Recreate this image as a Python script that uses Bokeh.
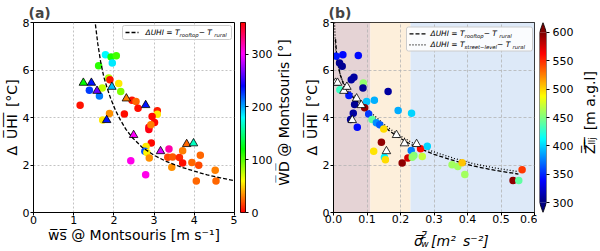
import colorsys
import math
import numpy as np
from bokeh.plotting import figure
from bokeh.models import (Range1d, LinearColorMapper, ColumnDataSource, Label, BoxAnnotation,
                          Arrow, FixedTicker, PrintfTickFormatter)
from bokeh.layouts import row, column
from bokeh.transform import linear_cmap
from bokeh.embed import file_html
from bokeh.resources import INLINE

# ---------------- data: panel (a) ----------------
a_circ_ws = [1.16, 1.39, 1.64, 1.62, 1.79, 1.93, 2.06, 1.96, 1.87, 1.90,
             1.71, 2.12, 2.17, 1.72, 1.89, 2.26, 2.45, 2.55, 2.60, 3.08,
             3.08, 2.95, 3.01, 2.87, 2.87, 2.92, 2.93, 2.80, 2.77, 2.82,
             2.88, 2.42, 2.79, 3.37, 3.34, 3.46, 3.44, 3.63, 3.71, 3.71,
             3.94, 4.11, 4.15, 4.05, 4.52, 4.54]
a_circ_uhi = [4.52, 5.15, 4.91, 6.18, 6.64, 6.55, 6.60, 6.29, 5.66, 5.59,
              5.24, 5.43, 5.09, 3.90, 4.17, 4.15, 4.73, 4.67, 4.39, 4.28,
              4.14, 4.04, 3.79, 3.59, 3.49, 3.69, 2.93, 2.78, 2.58, 2.53,
              2.29, 2.18, 1.59, 2.67, 2.33, 2.34, 1.91, 2.32, 2.08, 2.60,
              2.11, 1.99, 2.41, 1.33, 1.78, 1.33]
a_circ_wd = [5, 225, 210, 110, 180, 115, 105, 185, 80, 5,
             75, 55, 90, 55, 35, 3, 5, 25, 3, 8,
             55, 2, 2, 355, 355, 30, 2, 55, 220, 58,
             35, 305, 305, 320, 18, 22, 35, 10, 3, 30,
             25, 18, 25, 25, 30, 25]
a_tri_ws = [1.24, 1.44, 1.58, 1.95, 1.82, 2.31, 2.79, 2.49, 3.16, 3.81, 3.98]
a_tri_uhi = [5.46, 5.46, 5.12, 5.29, 3.89, 4.80, 4.52, 3.26, 2.58, 2.88, 2.91]
a_tri_wd = [120, 235, 265, 195, 235, 30, 235, 300, 290, 25, 165]
a_fit_ws = [1.54, 1.60, 1.67, 1.75, 1.83, 1.92, 2.04, 2.16, 2.30, 2.46, 2.70,
            2.99, 3.30, 3.66, 4.00, 4.32, 4.65, 5.00]
a_fit_uhi = [7.92, 7.10, 6.35, 5.70, 5.25, 4.80, 4.30, 3.90, 3.50, 3.15, 2.75,
             2.42, 2.15, 1.92, 1.74, 1.58, 1.46, 1.34]
a_xticks = [0, 1, 2, 3, 4, 5]
a_yticks = [0, 2, 4, 6, 8]
wd_ticks = [0, 100, 200, 300]

# ---------------- data: panel (b) ----------------
b_circ_sig = [0.008, 0.028, 0.074, 0.018, 0.026, 0.061, 0.053, 0.089, 0.088, 0.019,
              0.046, 0.163, 0.099, 0.122, 0.063, 0.093, 0.105, 0.059, 0.051, 0.071,
              0.115, 0.128, 0.138, 0.150, 0.193, 0.233, 0.143, 0.120, 0.152, 0.155,
              0.205, 0.222, 0.232, 0.240, 0.235, 0.260, 0.280, 0.265, 0.354, 0.371,
              0.384, 0.392, 0.563, 0.536, 0.553]
b_circ_uhi = [6.58, 6.64, 6.61, 6.29, 6.16, 5.70, 5.59, 5.45, 5.24, 5.17,
              4.93, 5.09, 4.67, 4.73, 4.55, 4.41, 4.15, 4.18, 3.92, 3.59,
              3.92, 3.78, 3.70, 3.52, 4.29, 4.18, 2.96, 2.58, 2.33, 2.22,
              2.08, 2.30, 2.61, 2.40, 2.33, 2.68, 2.79, 2.36, 2.01, 1.94,
              2.09, 1.60, 1.80, 1.35, 1.35]
b_circ_z = [345, 340, 340, 307, 307, 310, 310, 455, 307, 430,
            345, 310, 395, 390, 307, 595, 355, 310, 310, 340,
            440, 380, 365, 497, 388, 400, 595, 495, 410, 497,
            595, 575, 375, 450, 455, 560, 400, 470, 460, 460,
            505, 460, 545, 595, 440]
b_tri_sig = [0.006, 0.012, 0.031, 0.040, 0.069, 0.083, 0.056, 0.188, 0.158, 0.212, 0.248]
b_tri_uhi = [5.46, 5.46, 5.12, 5.29, 4.80, 4.52, 3.89, 3.26, 2.58, 2.91, 2.88]
b_roof_sig = [0.006, 0.010, 0.020, 0.030, 0.045, 0.065, 0.090, 0.120, 0.150, 0.190,
              0.240, 0.300, 0.360, 0.420, 0.480, 0.552]
b_roof_uhi = [7.30, 6.50, 5.80, 5.40, 5.05, 4.75, 4.40, 4.00, 3.62, 3.20,
              2.80, 2.45, 2.18, 1.95, 1.78, 1.62]
b_street_sig = [0.003, 0.006, 0.010, 0.020, 0.030, 0.045, 0.065, 0.090, 0.120, 0.150,
                0.190, 0.240, 0.300, 0.360, 0.420, 0.480, 0.552]
b_street_uhi = [8.00, 7.00, 6.40, 5.80, 5.45, 5.15, 4.85, 4.50, 4.10, 3.72,
                3.30, 2.90, 2.55, 2.28, 2.05, 1.88, 1.72]
b_region_edges = [0.0, 0.11, 0.23, 0.6]
b_region_colors = ["#e5d3d5", "#fdefdb", "#dde9f8"]
b_xticks = [0.0, 0.1, 0.2, 0.3, 0.4, 0.5, 0.6]
b_yticks = [0, 2, 4, 6, 8]
z_ticks = [300, 350, 400, 450, 500, 550, 600]

# ---------------- palettes ----------------
def hexc(r, g, b):
    return "#%02x%02x%02x" % (int(round(r * 255)), int(round(g * 255)), int(round(b * 255)))

HSV = [hexc(*colorsys.hsv_to_rgb(i / 255.0, 1.0, 1.0)) for i in range(256)]

def _cl(v):
    return max(0.0, min(1.0, v))

JET = []
for i in range(256):
    t = i / 255.0
    JET.append(hexc(_cl(min(4 * t - 1.5, -4 * t + 4.5)),
                    _cl(min(4 * t - 0.5, -4 * t + 3.5)),
                    _cl(min(4 * t + 0.5, -4 * t + 2.5))))

# ---------------- layout constants ----------------
FONT = "DejaVu Sans"
H = 251
FT, FB = 22, 39
FH = 190
MAIN_W = 237
FL, FR = 33, 3
FW = MAIN_W - FL - FR
PB_H = 227              # panel (b) figure height; its x-label lives in a strip below
STRIP_H = H - PB_H
TICK_FS = "11px"
LABEL_FS = "14px"
UHI_LABEL = "Δ\u2002U\u0305H\u0305I\u0305\u2002[°C]"

W = {' ': 0.318, 'Δ': 0.684, 'U': 0.732, 'H': 0.752, 'I': 0.295, '=': 0.838, 'T': 0.611,
     '−': 0.838, 'r': 0.411, 'o': 0.612, 'f': 0.352, 't': 0.392, 'p': 0.635, 'u': 0.634,
     'a': 0.613, 'l': 0.278, 's': 0.521, 'e': 0.615, 'v': 0.592, 'w': 0.818}


def tw(s, size):
    return sum(W.get(ch, 0.6) for ch in s) * size


def to_data(fx, fy, geo):
    fl, fw, xr, yr = geo
    x = xr[0] + (fx - fl) / fw * (xr[1] - xr[0])
    y = yr[1] - (fy - FT) / FH * (yr[1] - yr[0])
    return x, y


def add_text(p, geo, fx, fy, text, size, style="normal", align="left", baseline="middle"):
    x, y = to_data(fx, fy, geo)
    p.add_layout(Label(x=x, y=y, text=text, text_font=FONT,
                       text_font_size="%.2fpx" % size, text_font_style=style,
                       text_align=align, text_baseline=baseline, text_color="black"))


def add_math(p, geo, fx, fy, parts, size=7.5):
    x = fx
    for txt, sub in parts:
        s = size * 0.7 if sub else size
        add_text(p, geo, x, fy + (2.2 if sub else 0.0), txt, s, style="italic")
        x += tw(txt, s)


def add_legend_frame(p, geo, x0, y0, x1, y1):
    l, t = to_data(x0, y0, geo)
    r, b = to_data(x1, y1, geo)
    box = BoxAnnotation(left=l, right=r, top=t, bottom=b, fill_color="white",
                        fill_alpha=0.85, line_color="#cccccc", line_width=1, line_alpha=1.0)
    try:
        box.border_radius = 2
    except Exception:
        pass
    p.add_layout(box)


def add_sample(p, geo, x0, x1, y, dash):
    xs, ys = to_data(x0, y, geo)
    xe, _ = to_data(x1, y, geo)
    p.add_layout(Arrow(end=None, x_start=xs, y_start=ys, x_end=xe, y_end=ys,
                       line_color="black", line_width=1.3, line_dash=dash))


def style_axis(ax, standoff_label):
    ax.major_label_text_font = FONT
    ax.major_label_text_font_size = TICK_FS
    ax.major_label_text_color = "black"
    ax.major_tick_line_color = "black"
    ax.major_tick_out = 3
    ax.major_tick_in = 0
    ax.minor_tick_line_color = None
    ax.axis_label_text_font = FONT
    ax.axis_label_text_font_size = LABEL_FS
    ax.axis_label_text_font_style = "normal"
    ax.axis_label_text_color = "black"
    ax.axis_label_standoff = standoff_label


def main_fig(height, xr, yr, xticks, yticks, grid_dash, title):
    p = figure(width=MAIN_W, height=height, x_range=Range1d(*xr), y_range=Range1d(*yr),
               output_backend="svg", toolbar_location=None,
               min_border_left=FL, min_border_right=FR,
               min_border_top=FT, min_border_bottom=height - FT - FH)
    p.xaxis.ticker = FixedTicker(ticks=xticks)
    p.yaxis.ticker = FixedTicker(ticks=yticks)
    for ax in (p.xaxis[0], p.yaxis[0]):
        style_axis(ax, 0)
        ax.axis_line_color = "black"
        ax.major_label_standoff = 1
    p.xaxis[0].major_label_standoff = 0
    p.outline_line_color = "black"
    p.outline_line_alpha = 1.0
    p.grid.grid_line_color = "#b4b4b4"
    p.grid.grid_line_dash = grid_dash
    p.grid.grid_line_width = 0.8
    p.background_fill_color = "white"
    p.border_fill_color = "white"
    p.title.text = title
    p.title.text_font = FONT
    p.title.text_font_size = "14px"
    p.title.text_font_style = "bold"
    p.title.align = "left"
    p.title.offset = -5
    p.title.standoff = 3
    return p


def cbar_fig(width, yr, ticks, bl):
    p = figure(width=width, height=H, x_range=Range1d(0, 1), y_range=Range1d(*yr),
               output_backend="svg", toolbar_location=None,
               x_axis_location=None, y_axis_location="right",
               min_border_left=bl, min_border_right=width - bl - 7,
               min_border_top=FT, min_border_bottom=FB)
    p.xgrid.visible = False
    p.ygrid.visible = False
    ax = p.yaxis[0]
    ax.ticker = FixedTicker(ticks=ticks)
    style_axis(ax, 0)
    ax.axis_line_color = None
    ax.major_label_standoff = 3
    p.border_fill_color = "white"
    return p


def text_fig(width, height):
    # a blank figure whose frame hosts text placed in pixel coordinates (y up)
    p = figure(width=width, height=height, x_range=Range1d(0, width),
               y_range=Range1d(0, height), output_backend="svg", toolbar_location=None,
               x_axis_location=None, y_axis_location=None, min_border=0)
    p.grid.visible = False
    p.outline_line_color = None
    p.background_fill_color = "white"
    p.border_fill_color = "white"
    return p


def put(p, x, y, text, size, style="normal", align="left", baseline="alphabetic", angle=0.0):
    p.add_layout(Label(x=x, y=y, text=text, text_font=FONT, text_font_size="%.2fpx" % size,
                       text_font_style=style, text_align=align, text_baseline=baseline,
                       angle=angle, text_color="black"))

# ================= panel (a) =================
AX, AY = (0, 5), (0, 8)
geo_a = (FL, FW, AX, AY)
pa = main_fig(H, AX, AY, a_xticks, a_yticks, "2 2", "(a)")
pa.xaxis[0].axis_label = "w\u0305s\u0305 @ Montsouris [m s⁻¹]"
pa.yaxis[0].axis_label = UHI_LABEL

src_ac = ColumnDataSource(dict(x=a_circ_ws, y=a_circ_uhi, c=a_circ_wd))
pa.scatter("x", "y", source=src_ac, marker="circle", size=7.5, line_color=None,
           fill_color=linear_cmap("c", HSV, 0, 360))
src_at = ColumnDataSource(dict(x=a_tri_ws, y=a_tri_uhi, c=a_tri_wd))
pa.scatter("x", "y", source=src_at, marker="triangle", size=8.5, line_color="black",
           line_width=0.8, fill_color=linear_cmap("c", HSV, 0, 360))
pa.line(a_fit_ws, a_fit_uhi, line_color="black", line_width=1.3, line_dash="4 2")

add_legend_frame(pa, geo_a, 122, 25, 231, 39)
add_sample(pa, geo_a, 125, 138, 32, "4 2")
add_math(pa, geo_a, 145, 32, [("ΔUHI = T", False), ("rooftop", True),
                              (" − T", False), ("rural", True)])

# colorbar (a) + its label strip
CBA_Y = (0, 360)
CBA_W, CBA_LW = 38, 25
cba = cbar_fig(CBA_W, CBA_Y, wd_ticks, 3)
cba.image(image=[np.linspace(CBA_Y[0], CBA_Y[1], 256).reshape(-1, 1)], x=0, y=CBA_Y[0],
          dw=1, dh=CBA_Y[1] - CBA_Y[0],
          color_mapper=LinearColorMapper(palette=HSV, low=CBA_Y[0], high=CBA_Y[1]))
cba.outline_line_color = "black"
cba.outline_line_alpha = 1.0
cba_lab = text_fig(CBA_LW, H)
put(cba_lab, 8, H - 119, "W\u0305D\u0305 @ Montsouris [°]", 14, align="center",
    baseline="middle", angle=math.pi / 2)

# ================= panel (b) =================
BX, BY = (0, 0.6), (0, 8)
geo_b = (FL, FW, BX, BY)
pb = main_fig(PB_H, BX, BY, b_xticks, b_yticks, "3 2", "(b)")
pb.xaxis[0].formatter = PrintfTickFormatter(format="%.1f")
pb.xaxis[0].major_label_standoff = -1
pb.yaxis[0].axis_label = UHI_LABEL

pb.quad(left=b_region_edges[:-1], right=b_region_edges[1:], bottom=BY[0], top=BY[1],
        fill_color=b_region_colors, line_color=None, level="image")

pb.line(b_roof_sig, b_roof_uhi, line_color="black", line_width=1.3, line_dash="4 2")
pb.line(b_street_sig, b_street_uhi, line_color="black", line_width=1.3, line_dash="1 2")

src_bc = ColumnDataSource(dict(x=b_circ_sig, y=b_circ_uhi, c=b_circ_z))
pb.scatter("x", "y", source=src_bc, marker="circle", size=7.5, line_color=None,
           fill_color=linear_cmap("c", JET, 300, 600))
pb.scatter(b_tri_sig, b_tri_uhi, marker="triangle", size=8.5, line_color="black",
           line_width=0.8, fill_color="white")

add_legend_frame(pb, geo_b, 106, 26.5, 232, 50.5)
add_sample(pb, geo_b, 109, 127, 33.3, "4 2")
add_sample(pb, geo_b, 109, 127, 44.3, "1 2")
add_math(pb, geo_b, 130, 33.3, [("ΔUHI = T", False), ("rooftop", True),
                                (" − T", False), ("rural", True)])
add_math(pb, geo_b, 130, 44.3, [("ΔUHI = T", False), ("street−level", True),
                                (" − T", False), ("rural", True)])

# x label of (b), drawn in a strip under the panel (y measured up from strip bottom)
strip = text_fig(MAIN_W, STRIP_H)
put(strip, 95, H - 240.5, "σ\u0305", 14, style="italic")
put(strip, 103.5, H - 234.5, "2\u0305", 9, style="italic")
put(strip, 103.5, H - 243, "w", 9, style="italic")
put(strip, 115, H - 240.5, "[m² \u2009s⁻²]", 14, style="italic")

# colorbar (b) with extensions + its label strip
ZMIN, ZMAX = 300, 600
ZEXT = 17.5
CBB_Y = (ZMIN - ZEXT, ZMAX + ZEXT)
CBB_W, CBB_LW = 41, 22
cbb = cbar_fig(CBB_W, CBB_Y, z_ticks, 2)
cbb.image(image=[np.linspace(ZMIN, ZMAX, 256).reshape(-1, 1)], x=0, y=ZMIN, dw=1,
          dh=ZMAX - ZMIN, color_mapper=LinearColorMapper(palette=JET, low=ZMIN, high=ZMAX))
cbb.patch([0, 1, 0.5], [ZMAX, ZMAX, ZMAX + ZEXT], fill_color=JET[-1], line_color=None)
cbb.patch([0, 1, 0.5], [ZMIN, ZMIN, ZMIN - ZEXT], fill_color=JET[0], line_color=None)
cbb.line([0, 0, 0.5, 1, 1, 0.5, 0], [ZMIN, ZMAX, ZMAX + ZEXT, ZMAX, ZMIN, ZMIN - ZEXT, ZMIN],
         line_color="black", line_width=0.8)
cbb.outline_line_color = None
cbb_lab = text_fig(CBB_LW, H)
put(cbb_lab, 11, H - 119, "Z\u0305ₗ\u0305ₗ\u0305ⱼ\u0305\u2002[m a.g.l]", 14, align="center",
    baseline="middle", angle=math.pi / 2)

layout = row(pa, cba, cba_lab, column(pb, strip), cbb, cbb_lab)
layout.styles = {"position": "absolute", "left": "0px", "top": "0px"}

open("out.html", "w").write(file_html(layout, INLINE))
